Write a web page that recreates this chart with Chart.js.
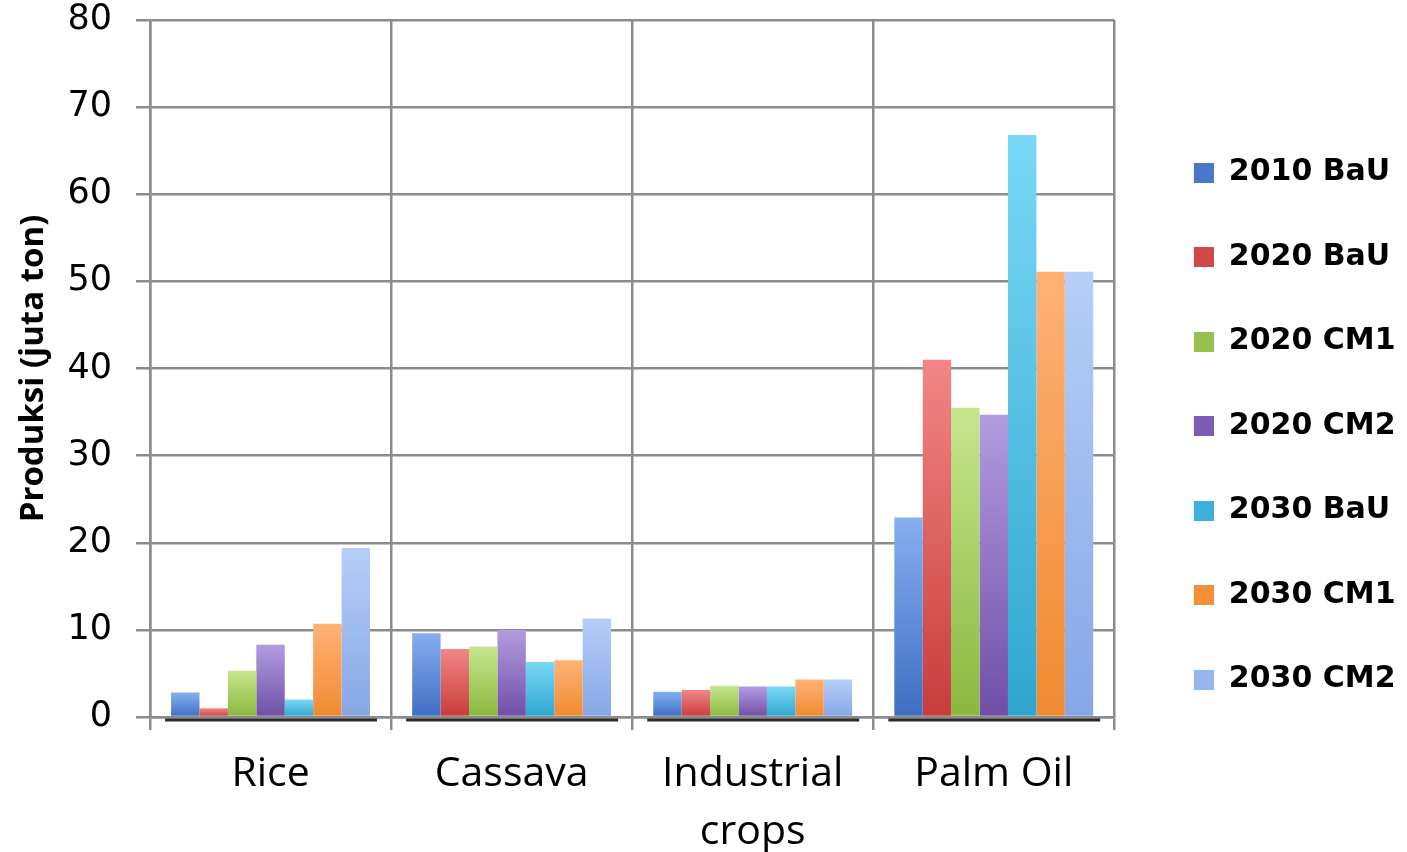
<!DOCTYPE html>
<html>
<head>
<meta charset="utf-8">
<script src="https://cdn.jsdelivr.net/npm/chart.js@4.4.1/dist/chart.umd.min.js"></script>
<style>
  html, body { margin: 0; padding: 0; background: #ffffff; }
  #wrap { width: 1407px; height: 852px; }
</style>
</head>
<body>
<div id="wrap"><canvas id="chart" width="1407" height="852"></canvas></div>
<script>
// Crop categories (x axis)
const categories = ['Rice', 'Cassava', ['Industrial', 'crops'], 'Palm Oil'];

// Scenario series names (legend order)
const seriesNames = ['2010 BaU', '2020 BaU', '2020 CM1', '2020 CM2', '2030 BaU', '2030 CM1', '2030 CM2'];

// Production per crop, one value per scenario (juta ton)
const rice            = [2.8, 1.0, 5.3, 8.3, 2.0, 10.7, 19.4];
const cassava         = [9.6, 7.8, 8.1, 10.0, 6.3, 6.5, 11.3];
const industrialCrops = [2.9, 3.1, 3.6, 3.5, 3.5, 4.3, 4.3];
const palmOil         = [22.9, 41.0, 35.5, 34.7, 66.8, 51.1, 51.1];

// Y axis tick values
const yTicks = [0, 10, 20, 30, 40, 50, 60, 70, 80];

// Bar fills: light top, deeper base
const topColors  = ['#86aef0', '#f28686', '#c6e68e', '#b29ce0', '#7ad8f6', '#ffb276', '#b6cff8'];
const baseColors = ['#3f6dc2', '#c83c3c', '#8ab83e', '#6f4fa6', '#2fa6cf', '#f08a30', '#86a6e6'];
const legendColors = ['#4a78c8', '#d04848', '#98c050', '#7c5cb4', '#3cb0d8', '#f49038', '#96b4ee'];

const GRID = '#8c8c8c';

const crops = [rice, cassava, industrialCrops, palmOil];

function barFill(i) {
  return (ctx) => {
    const chart = ctx.chart;
    const area = chart.chartArea;
    if (!area || ctx.type !== 'data') return legendColors[i];
    const yScale = chart.scales.y;
    const top = yScale.getPixelForValue(ctx.raw);
    const bottom = yScale.getPixelForValue(0);
    if (!isFinite(top) || bottom - top < 1) return baseColors[i];
    const g = chart.ctx.createLinearGradient(0, top, 0, bottom);
    g.addColorStop(0, topColors[i]);
    g.addColorStop(1, baseColors[i]);
    return g;
  };
}

// Legend markers: a square sitting at the right end of a wider transparent swatch,
// which leaves a gap between the plot border and the legend column.
const MARK_W = 45, MARK_SQ = 20;
const legendMarkers = legendColors.map((c) => {
  const cv = document.createElement('canvas');
  cv.width = MARK_W;
  cv.height = MARK_SQ;
  const g = cv.getContext('2d');
  g.fillStyle = c;
  g.fillRect(MARK_W - MARK_SQ, 0, MARK_SQ, MARK_SQ);
  return cv;
});

const datasets = seriesNames.map((name, i) => ({
  label: name,
  data: crops.map(c => c[i]),
  backgroundColor: barFill(i),
  borderWidth: 0,
  categoryPercentage: 0.825,
  barPercentage: 1.0
}));

// Dark floor line under each category's group of bars
const groupFloor = {
  id: 'groupFloor',
  afterDatasetsDraw(chart) {
    const ctx = chart.ctx;
    const first = chart.getDatasetMeta(0).data;
    const last = chart.getDatasetMeta(chart.data.datasets.length - 1).data;
    const y = chart.scales.y.getPixelForValue(0) + 3;
    ctx.save();
    ctx.strokeStyle = '#2a2a2a';
    ctx.lineWidth = 3;
    for (let k = 0; k < first.length; k++) {
      const l = first[k].x - first[k].width / 2 - 6;
      const r = last[k].x + last[k].width / 2 + 7;
      ctx.beginPath();
      ctx.moveTo(l, y);
      ctx.lineTo(r, y);
      ctx.stroke();
    }
    ctx.restore();
  }
};

function build() {
  new Chart(document.getElementById('chart'), {
    type: 'bar',
    data: { labels: categories, datasets },
    plugins: [groupFloor],
    options: {
      responsive: false,
      animation: false,
      devicePixelRatio: 1,
      layout: { padding: { top: 0, left: 0, right: 1.5, bottom: 0 } },
      plugins: {
        tooltip: { enabled: false },
        legend: {
          position: 'right',
          align: 'center',
          labels: {
            usePointStyle: true,
            pointStyleWidth: MARK_W,
            boxHeight: MARK_SQ,
            padding: 54.5,
            color: '#000',
            font: { family: 'DejaVu Sans', size: 30, weight: 'bold' },
            generateLabels(chart) {
              const items = Chart.defaults.plugins.legend.labels.generateLabels(chart);
              items.forEach((it, i) => {
                it.pointStyle = legendMarkers[i];
                it.fillStyle = legendColors[i];
                it.strokeStyle = legendColors[i];
                it.lineWidth = 0;
              });
              return items;
            }
          }
        }
      },
      scales: {
        x: {
          ticks: {
            color: '#000',
            font: { family: 'Open Sans', size: 41, lineHeight: 1.4 },
            padding: 16,
            maxRotation: 0,
            autoSkip: false
          },
          grid: { color: GRID, lineWidth: 2.5, tickLength: 13, offset: true },
          border: { color: GRID, width: 2.5 },
          afterFit(s) { s.height = 135; }
        },
        y: {
          min: 0,
          max: 80,
          afterBuildTicks(s) { s.ticks = yTicks.map(v => ({ value: v })); },
          ticks: {
            color: '#000',
            padding: 24,
            font: { family: 'DejaVu Sans', size: 35 }
          },
          grid: { color: GRID, lineWidth: 2.5, tickLength: 14 },
          border: { color: GRID, width: 2.5 },
          title: {
            display: true,
            text: 'Produksi (juta ton)',
            color: '#000',
            font: { family: 'Open Sans', size: 33, weight: 'bold' },
            padding: { top: 14, bottom: 0 }
          },
          afterFit(s) {
            s.width = 150;
            s.paddingTop = 20;
          }
        }
      }
    }
  });
}

Promise.all([
  document.fonts.load('41px "Open Sans"'),
  document.fonts.load('bold 33px "Open Sans"'),
  document.fonts.load('35px "DejaVu Sans"'),
  document.fonts.load('bold 30px "DejaVu Sans"')
]).then(build, build);
</script>
</body>
</html>
